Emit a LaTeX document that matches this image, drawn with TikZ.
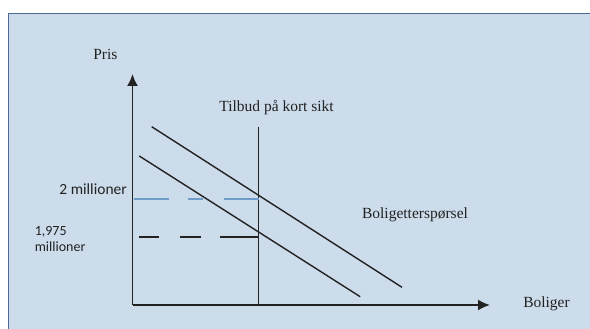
\documentclass[tikz,border=0pt]{standalone}
\usepackage{fontspec}
\setmainfont{Liberation Serif}
\newfontfamily\calfont{Carlito}
\usetikzlibrary{arrows.meta}
\definecolor{bgblue}{HTML}{CCDCEB}
\definecolor{frameblue}{HTML}{4A6A94}
\definecolor{dashblue}{HTML}{6E9BC9}
\definecolor{ink}{HTML}{222222}
\tikzset{
  axis/.style={line width=1.8pt, draw=ink, -{Latex[length=12pt,width=11pt]}},
  curve/.style={line width=1.4pt, draw=ink},
  lbl/.style={inner sep=0pt, text=ink, font=\fontsize{15.5}{17}\selectfont},
  slbl/.style={inner sep=0pt, text=ink, font=\calfont\fontsize{14}{16}\selectfont, align=left},
}
\begin{document}
\begin{tikzpicture}[x=1pt,y=-1pt]
\useasboundingbox (0,0) rectangle (590,329);
\begin{scope}
\clip (0,0) rectangle (590,329);
\draw[fill=bgblue, draw=frameblue, line width=1.8pt] (8.5,13.5) rectangle (610,350);
\end{scope}
% axes
\coordinate (O) at (132.5,305);
\coordinate (Ytop) at (132.5,74);
\coordinate (Xend) at (490,305);
\draw[axis] (O) -- (Ytop);
\draw[axis] (O) -- (Xend);
% supply
\coordinate (Stop) at (258.6,126.7);
\coordinate (Sbot) at (258.6,305);
\draw[curve] (Stop) -- (Sbot);
% demand lines
\coordinate (D1a) at (151.7,126.7);
\coordinate (D1b) at (402,287.3);
\coordinate (D2a) at (139.3,156);
\coordinate (D2b) at (360.2,296.7);
\draw[curve] (D1a) -- (D1b);
\draw[curve] (D2a) -- (D2b);
% dashed levels
\coordinate (B1) at (133.5,199);
\coordinate (B2) at (258.6,199);
\draw[dashblue, line width=1.4pt, dash pattern=on 35pt off 19pt on 15pt off 21pt on 40pt] (B1) -- (B2);
\coordinate (K1) at (139.3,237);
\coordinate (K2) at (258.6,237);
\draw[ink, line width=1.4pt, dash pattern=on 20pt off 21pt on 21pt off 19pt on 45pt] (K1) -- (K2);
% labels
\node[lbl] (pris) at (105.4,54) {Pris};
\node[lbl] (tilbud) at (276.6,108) {Tilbud på kort sikt};
\node[lbl] (dem) at (415,215) {Boligetterspørsel};
\node[lbl] (bol) at (546.5,304) {Boliger};
\node[slbl, anchor=east, font=\calfont\fontsize{15.5}{17}\selectfont] (two) at (127,189) {2 millioner};
\node[slbl, anchor=north west, text width=70pt] (one) at (34.6,226) {1,975\\millioner};
\end{tikzpicture}
\end{document}
